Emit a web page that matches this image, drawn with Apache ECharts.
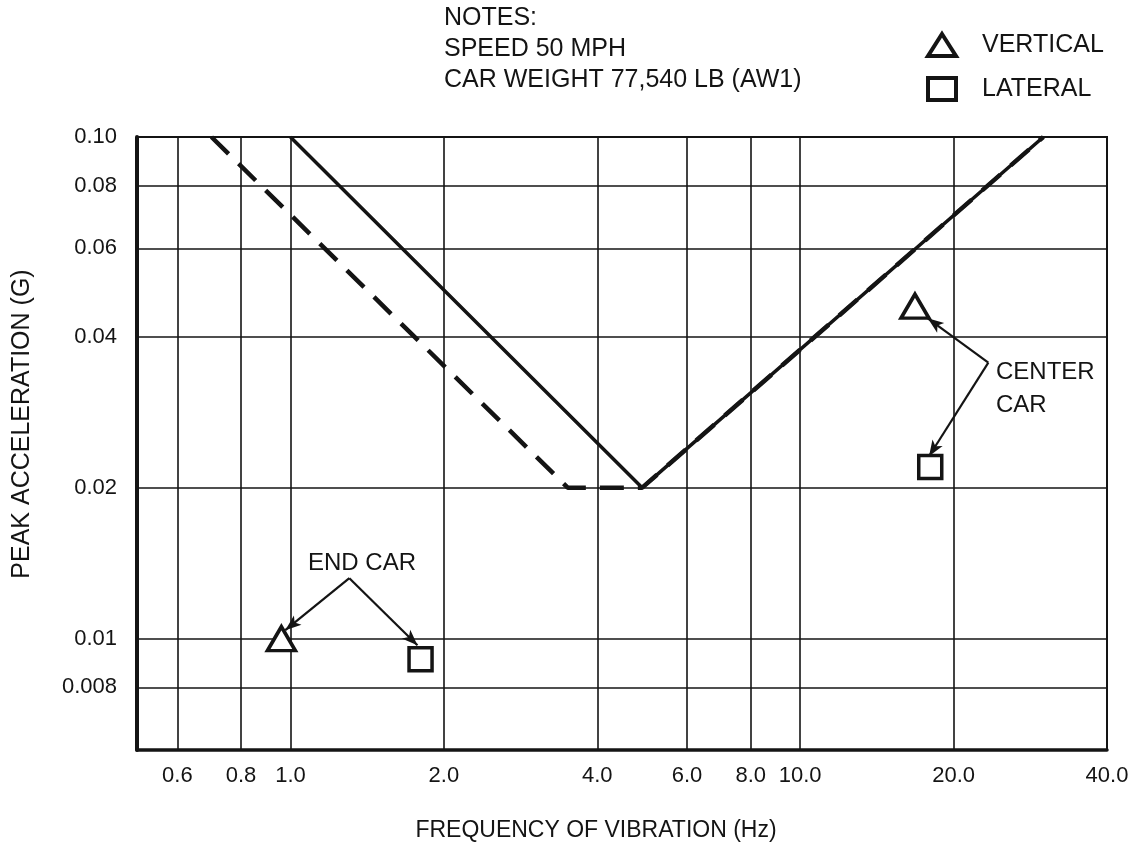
<!DOCTYPE html>
<html>
<head>
<meta charset="utf-8">
<script src="https://cdn.jsdelivr.net/npm/echarts@6/dist/echarts.min.js"></script>
<style>
  html, body { margin: 0; padding: 0; background: #fff; }
  #chart { width: 1139px; height: 850px; }
</style>
</head>
<body>
<div id="chart"></div>
<script>
  // axis ticks (log-log paper)
  var xTicks = [0.6, 0.8, 1, 2, 4, 6, 8, 10, 20, 40];
  var xTickLabels = ['0.6', '0.8', '1.0', '2.0', '4.0', '6.0', '8.0', '10.0', '20.0', '40.0'];
  var yTicks = [0.008, 0.01, 0.02, 0.04, 0.06, 0.08, 0.1];
  var yTickLabels = ['0.008', '0.01', '0.02', '0.04', '0.06', '0.08', '0.10'];

  // limit curves  [frequency Hz, peak accel G]
  var solidCurve = [[1.0, 0.10], [4.9, 0.02], [30, 0.10]];
  var dashedCurve = [[0.7, 0.10], [3.5, 0.02], [4.9, 0.02], [30, 0.10]];

  // measured points
  var verticalPts = [[0.96, 0.0100], [16.8, 0.046]];
  var lateralPts = [[1.8, 0.0091], [18.0, 0.022]];

  // callout arrows (from label apex to marker)
  var endCarArrows = [[[1.305, 0.0132], [0.977, 0.0104]], [[1.305, 0.0132], [1.775, 0.0097]]];
  var centerCarArrows = [[[23.4, 0.0355], [17.8, 0.0435]], [[23.4, 0.0355], [17.9, 0.0231]]];

  var ink = '#141414';
  var font = 'Liberation Sans, Arial, sans-serif';

  function pickLabel(ticks, labels, v) {
    var best = 0;
    for (var i = 0; i < ticks.length; i++) {
      if (Math.abs(Math.log(ticks[i]) - Math.log(v)) < Math.abs(Math.log(ticks[best]) - Math.log(v))) best = i;
    }
    return labels[best];
  }

  function arrowData(list) {
    return list.map(function (p) {
      return [{ coord: p[0] }, { coord: p[1] }];
    });
  }

  function txt(str, left, top, size) {
    return { type: 'text', left: left, top: top, style: { text: str, font: size + 'px ' + font, fill: ink } };
  }

  var myChart = echarts.init(document.getElementById('chart'));

  var option = {
    animation: false,
    backgroundColor: '#fff',
    grid: {
      left: 137,
      top: 137,
      right: 32,
      bottom: 100,
      show: true,
      borderColor: ink,
      borderWidth: 2
    },
    legend: {
      orient: 'vertical',
      left: 921,
      top: 27,
      itemWidth: 28,
      itemHeight: 22,
      itemGap: 18,
      data: ['VERTICAL', 'LATERAL'],
      itemStyle: { borderWidth: 4 },
      textStyle: { fontFamily: font, fontSize: 25, color: ink, padding: [0, 0, 0, 21] }
    },
    xAxis: {
      type: 'log',
      logBase: 10,
      min: 0.5,
      max: 40,
      axisLine: { show: true, onZero: false, lineStyle: { color: ink, width: 3.5 } },
      axisTick: { show: false, customValues: xTicks },
      axisLabel: {
        customValues: xTicks,
        margin: 15,
        fontFamily: font,
        fontSize: 22,
        color: ink,
        formatter: function (v) { return pickLabel(xTicks, xTickLabels, v); }
      },
      splitLine: { show: true, lineStyle: { color: ink, width: 1.6 } }
    },
    yAxis: {
      type: 'log',
      logBase: 10,
      min: 0.006,
      max: 0.1,
      axisLine: { show: true, onZero: false, lineStyle: { color: ink, width: 4 } },
      axisTick: { show: false, customValues: yTicks },
      axisLabel: {
        customValues: yTicks,
        margin: 20,
        fontFamily: font,
        fontSize: 22,
        color: ink,
        formatter: function (v) { return pickLabel(yTicks, yTickLabels, v); }
      },
      splitLine: { show: true, lineStyle: { color: ink, width: 1.6 } }
    },
    series: [
      {
        name: 'limit',
        type: 'line',
        data: solidCurve,
        symbol: 'none',
        lineStyle: { color: ink, width: 3.5 },
        z: 3
      },
      {
        name: 'limit dashed',
        type: 'line',
        data: dashedCurve,
        symbol: 'none',
        lineStyle: { color: ink, width: 4.5, type: [24, 14] },
        z: 3
      },
      {
        name: 'VERTICAL',
        type: 'scatter',
        data: verticalPts,
        symbol: 'triangle',
        symbolSize: [28, 24],
        itemStyle: { color: '#fff', borderColor: ink, borderWidth: 3.5, opacity: 1 },
        z: 5,
        markLine: {
          silent: true,
          symbol: ['none', 'arrow'],
          symbolSize: [9, 16],
          label: { show: false },
          lineStyle: { color: ink, width: 2.2, type: 'solid' },
          data: arrowData([endCarArrows[0], centerCarArrows[0]])
        }
      },
      {
        name: 'LATERAL',
        type: 'scatter',
        data: lateralPts,
        symbol: 'rect',
        symbolSize: [23, 23],
        itemStyle: { color: '#fff', borderColor: ink, borderWidth: 3.5, opacity: 1 },
        z: 5,
        markLine: {
          silent: true,
          symbol: ['none', 'arrow'],
          symbolSize: [9, 16],
          label: { show: false },
          lineStyle: { color: ink, width: 2.2, type: 'solid' },
          data: arrowData([endCarArrows[1], centerCarArrows[1]])
        }
      }
    ],
    graphic: [
      txt('NOTES:', 444, 6, 25),
      txt('SPEED 50 MPH', 444, 37, 25),
      txt('CAR WEIGHT 77,540 LB (AW1)', 444, 68, 25),
      txt('END CAR', 308, 551, 24),
      txt('CENTER', 996, 360, 24),
      txt('CAR', 996, 393, 24),
      {
        type: 'text',
        x: 596,
        y: 831,
        style: {
          text: 'FREQUENCY OF VIBRATION (Hz)', font: '23px ' + font, fill: ink,
          align: 'center', verticalAlign: 'middle'
        }
      },
      {
        type: 'text',
        x: 22,
        y: 424,
        rotation: Math.PI / 2,
        style: {
          text: 'PEAK ACCELERATION (G)', font: '25px ' + font, fill: ink,
          align: 'center', verticalAlign: 'middle'
        }
      }
    ]
  };

  myChart.setOption(option);
  window.addEventListener('resize', function () {
    myChart.resize();
  });
</script>
</body>
</html>
